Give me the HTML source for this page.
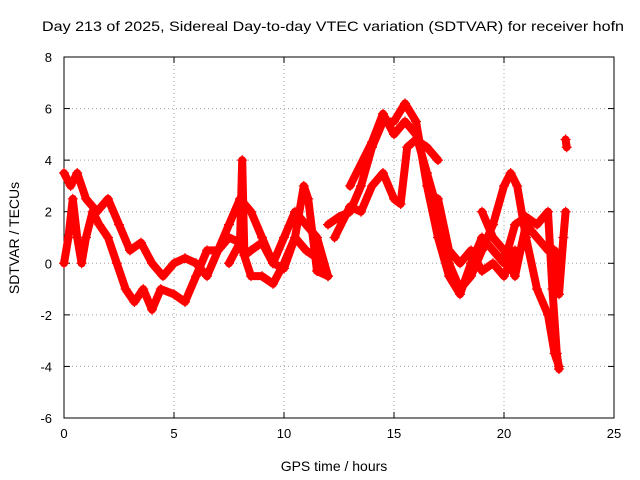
<!DOCTYPE html>
<html><head><meta charset="utf-8"><style>
html,body{margin:0;padding:0;background:#fff}
svg{display:block;font-family:"Liberation Sans",sans-serif}
</style></head><body>
<svg id="c" width="640" height="480"></svg>
<script>
const xTicks=[0,5,10,15,20,25];
const yTicks=[-6,-4,-2,0,2,4,6,8];
const t1=[[0,0],[0.2,1],[0.4,2.5],[0.6,1],[0.8,0],[1,1],[1.3,2],[1.6,1.5],[2,1],[2.4,0],[2.8,-1],[3.2,-1.5],[3.6,-1],[4,-1.8],[4.4,-1],[5,-1.2],[5.5,-1.5],[6,-0.5],[6.5,0.5],[7,0.5],[7.5,1.5],[8,2.5],[8.5,2],[9,1],[9.5,0],[10,1],[10.5,2],[11,1.5],[11.5,1],[12,-0.5]];
const t2=[[0,3.5],[0.3,3],[0.6,3.5],[1,2.5],[1.5,2],[2,2.5],[2.5,1.5],[3,0.5],[3.5,0.8],[4,0],[4.5,-0.5],[5,0],[5.5,0.2],[6,0],[6.5,-0.5],[7,0.5],[7.5,1],[8,0.8],[8.5,-0.5],[9,-0.5],[9.5,-0.8],[10,0],[10.5,1],[11,0.5],[11.5,0.2],[12,-0.5]];
const t3=[[7.5,0],[8,0.8],[8.1,4],[8.2,0.3],[8.5,0.5],[9,0.8],[9.5,0],[10,-0.2],[10.5,1],[10.9,3],[11.1,2.5],[11.5,-0.3],[12,-0.5]];
const t4=[[12,1.5],[12.5,1.8],[13,2],[13.5,3],[14,4.5],[14.5,5.5],[15,5.5],[15.5,6.2],[16,5.5],[16.5,3],[17,1],[17.5,-0.5],[18,-1.2],[18.5,0],[19,1],[19.5,0.5],[20,0],[20.5,1.5],[21,1.8],[21.5,1.5],[22,2],[22.2,-1],[22.4,-3.5],[22.5,-4.1]];
const t5=[[12.3,1],[13,2.2],[13.5,2],[14,3],[14.5,3.5],[15,2.5],[15.3,2.3],[15.6,4.5],[16,4.8],[16.5,4.5],[17,4]];
const t6=[[13,3],[14,4.7],[14.5,5.8],[15,5],[15.5,5.5],[16,5],[16.5,3.5],[17,2],[17.5,0],[18,-1],[18.5,-0.5],[19,0.5],[19.5,1.5],[20,3],[20.3,3.5],[20.6,3],[21,1],[21.5,-1],[22,-2],[22.3,-3.5],[22.5,-4]];
const t7=[[17,2.5],[17.5,0.5],[18,0],[18.5,0.5],[19,-0.3],[19.5,0],[20,-0.5],[20.5,0.5]];
const t8=[[19,2],[19.5,1],[20,0.5],[20.5,-0.5],[21,1.5],[21.5,1],[22,0.5],[22.3,0.5],[22.5,-1.2],[22.7,1],[22.8,2]];
const t9=[[22.8,4.8],[22.85,4.5]];
const series=[t1,t2,t3,t4,t5,t6,t7,t8,t9];
const X0=64,X1=614,Y0=418,Y1=57;
const sx=v=>X0+(v-0)/(25-0)*(X1-X0);
const sy=v=>Y0-(v+6)/(14)*(Y0-Y1);
const svg=document.getElementById('c');const NS='http://www.w3.org/2000/svg';
function mk(t,a,p){const e=document.createElementNS(NS,t);for(const k in a)e.setAttribute(k,a[k]);(p||svg).appendChild(e);return e;}
let e;
e=mk('text',{x:42,y:31,'font-size':14,fill:'#000',textLength:582,lengthAdjust:'spacingAndGlyphs'});e.textContent='Day 213 of 2025, Sidereal Day-to-day VTEC variation (SDTVAR) for receiver hofn';


xTicks.forEach(v=>{
 if(v>0&&v<25){e=mk('line',{x1:sx(v),x2:sx(v),y1:Y0,y2:Y1,stroke:'#a0a0a0','stroke-dasharray':'1,3'});
 
 }
 e=mk('text',{x:sx(v),y:Y0+20,'text-anchor':'middle','font-size':13});e.textContent=v;
 
 
 mk('line',{x1:sx(v),x2:sx(v),y1:Y0,y2:Y0-6,stroke:'#000'});mk('line',{x1:sx(v),x2:sx(v),y1:Y1,y2:Y1+6,stroke:'#000'});
});
yTicks.forEach(v=>{
 if(v>-6&&v<8){e=mk('line',{x1:X0,x2:X1,y1:sy(v),y2:sy(v),stroke:'#a0a0a0','stroke-dasharray':'1,3'});
 
 }
 e=mk('text',{x:X0-12,y:sy(v)+5,'text-anchor':'end','font-size':13});e.textContent=v;
 
 
 mk('line',{x1:X0,x2:X0+6,y1:sy(v),y2:sy(v),stroke:'#000'});mk('line',{x1:X1,x2:X1-6,y1:sy(v),y2:sy(v),stroke:'#000'});
});
e=mk('rect',{x:X0,y:Y1,width:X1-X0,height:Y0-Y1,fill:'none',stroke:'#000'});


e=mk('text',{x:334,y:471,'text-anchor':'middle','font-size':14});e.textContent='GPS time / hours';


e=mk('text',{x:0,y:0,'text-anchor':'middle','font-size':14,transform:'translate(19,238) rotate(-90)'});e.textContent='SDTVAR / TECUs';


series.forEach((s,i)=>{
 const g=mk('g',{});
 
 
 mk('polyline',{points:s.map(p=>sx(p[0])+','+sy(p[1])).join(' '),fill:'none',stroke:'#f00','stroke-width':8,'stroke-linejoin':'round','stroke-linecap':'round'},g);
 s.forEach(p=>{const x=sx(p[0]),y=sy(p[1]);
  mk('path',{d:`M${x-5},${y}h10M${x},${y-5}v10`,stroke:'#f00','stroke-width':1.2},g);});
});
</script>
</body></html>
